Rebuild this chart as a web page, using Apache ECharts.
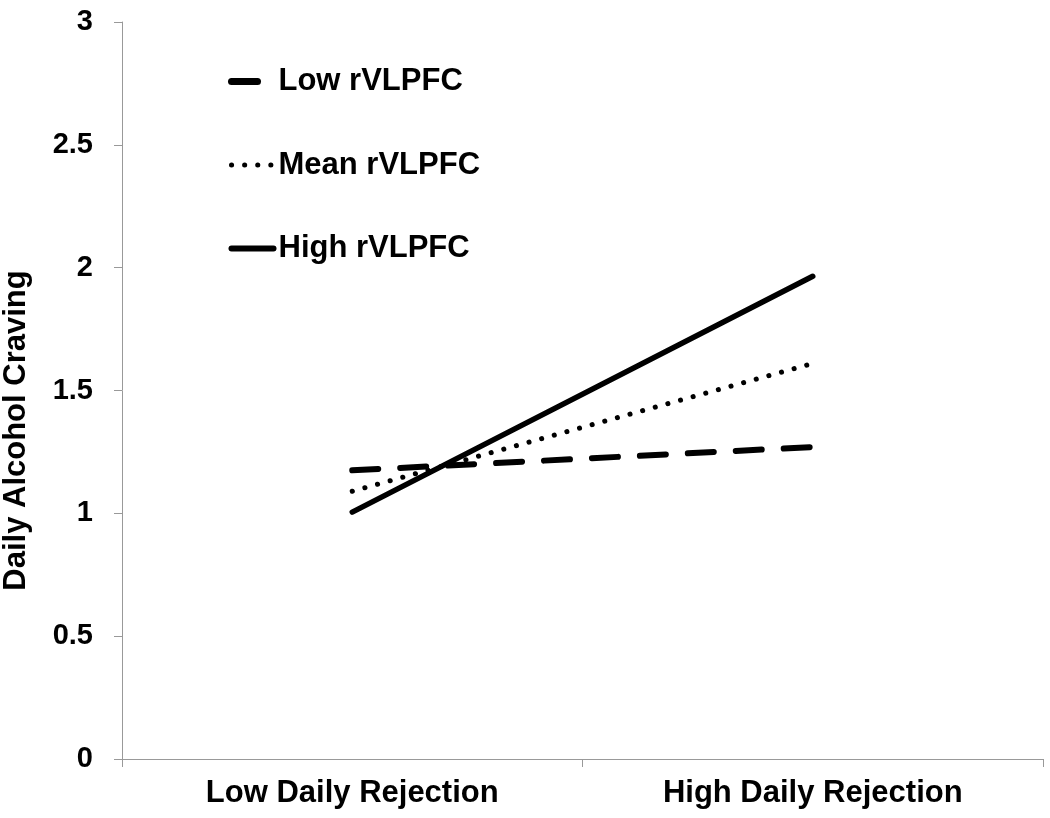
<!DOCTYPE html>
<html>
<head>
<meta charset="utf-8">
<script src="https://cdn.jsdelivr.net/npm/echarts@6/dist/echarts.min.js"></script>
<style>html,body{margin:0;padding:0;background:#fff}#c{width:1050px;height:818px}</style>
</head>
<body>
<div id="c"></div>
<script>
var categories = ['Low Daily Rejection', 'High Daily Rejection'];
var lowRVLPFC = [1.175, 1.27];
var meanRVLPFC = [1.09, 1.61];
var highRVLPFC = [1.005, 1.965];
var yTicks = [0, 0.5, 1, 1.5, 2, 2.5, 3];

var font = 'Liberation Sans, Arial, sans-serif';
var chart = echarts.init(document.getElementById('c'));
chart.setOption({
  animation: false,
  backgroundColor: '#fff',
  grid: {left: 122, right: 7, top: 22, bottom: 59, outerBoundsMode: 'none', containLabel: false},
  legend: {
    orient: 'vertical', left: 228, top: 66, padding: 0, itemWidth: 42, itemHeight: 30, itemGap: 52.5,
    itemStyle: {color: 'rgba(0,0,0,0)', borderWidth: 0, opacity: 0},
    textStyle: {fontFamily: font, fontWeight: 'bold', fontSize: 31, color: '#000'},
    data: [
      {name: 'Low rVLPFC', lineStyle: {width: 7, type: [26, 40], cap: 'round', color: '#000'}},
      {name: 'Mean rVLPFC', lineStyle: {width: 5, type: [0.1, 13], cap: 'round', color: '#000'}},
      {name: 'High rVLPFC', lineStyle: {width: 6, type: 'solid', cap: 'round', color: '#000'}}
    ]
  },
  xAxis: {
    type: 'category', data: categories, boundaryGap: true,
    axisLine: {lineStyle: {color: '#999', width: 1}},
    axisTick: {show: true, length: 8, lineStyle: {color: '#999'}},
    axisLabel: {margin: 19, fontFamily: font, fontWeight: 'bold', fontSize: 31, color: '#000'}
  },
  yAxis: {
    type: 'value', min: 0, max: 3, interval: 0.5,
    name: 'Daily Alcohol Craving', nameLocation: 'middle', nameGap: 90, nameRotate: 90,
    nameTextStyle: {fontFamily: font, fontWeight: 'bold', fontSize: 31, color: '#000', padding: [0, 80, 0, 0]},
    axisLine: {show: true, lineStyle: {color: '#999', width: 1}},
    axisTick: {show: true, length: 8, lineStyle: {color: '#999'}},
    splitLine: {show: false},
    axisLabel: {margin: 29, fontFamily: font, fontWeight: 'bold', fontSize: 29, color: '#000',
      formatter: function (v) { return yTicks.indexOf(v) >= 0 ? String(v) : ''; }}
  },
  series: [
    {name: 'Low rVLPFC', type: 'line', data: lowRVLPFC, symbol: 'none',
     lineStyle: {color: '#000', width: 6, type: [26, 22], cap: 'round'}, itemStyle: {color: '#000'}},
    {name: 'Mean rVLPFC', type: 'line', data: meanRVLPFC, symbol: 'none',
     lineStyle: {color: '#000', width: 5, type: [0.1, 13], cap: 'round'}, itemStyle: {color: '#000'}},
    {name: 'High rVLPFC', type: 'line', data: highRVLPFC, symbol: 'none',
     lineStyle: {color: '#000', width: 5.5, type: 'solid', cap: 'round'}, itemStyle: {color: '#000'}}
  ]
});
</script>
</body>
</html>
